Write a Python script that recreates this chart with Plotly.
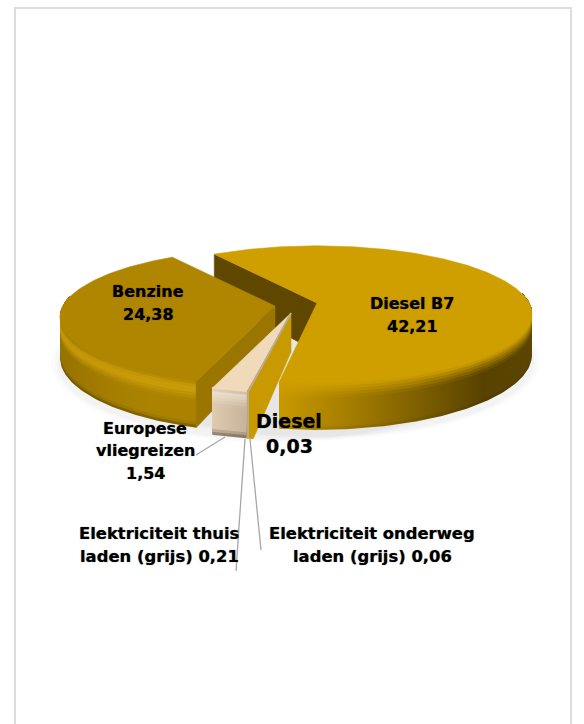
import numpy as np
import plotly.graph_objects as go

# ---- data (clockwise from the back of the pie) ----
names = ["Diesel B7", "Diesel", "Elektriciteit onderweg laden (grijs)",
         "Elektriciteit thuis laden (grijs)", "Europese vliegreizen", "Benzine"]
values = [42.21, 0.03, 0.06, 0.21, 1.54, 24.38]
START_DEG = 326.5

# ---- styles ----
TOP = ["#CF9F00", "#CF9F00", "#BDBDBD", "#A8A8A8", "#F0DAB9", "#B08500"]
APEX = [(317, 303), (291, 313), (291, 313), (291, 313), (291, 313), (275, 306)]
A, B, P, D = 212.0, 66.7, 0.167, 39.0

fig = go.Figure()


def poly(xs, ys, color):
    fig.add_trace(go.Scatter(x=list(xs) + [xs[0]], y=list(ys) + [ys[0]], mode="lines",
                             fill="toself", fillcolor=color,
                             line=dict(color=color, width=0.6),
                             hoverinfo="skip", showlegend=False))


def proj(apex, deg, r=1.0, drop=0.0):
    t = np.radians(deg)
    X, Y = r * np.sin(t), -r * np.cos(t)
    s = 1 / (1 - P * Y)
    return apex[0] + A * X * s, apex[1] + B * Y * s + D * s * drop


def mix(c1, c2, f):
    return tuple(c1[i] + (c2[i] - c1[i]) * f for i in range(3))


def rgb(c):
    return "rgb(%d,%d,%d)" % tuple(int(round(v)) for v in c)


def hex2(c):
    return tuple(int(c[i:i + 2], 16) for i in (1, 3, 5))


def rim(apex, a0, a1, stops, light, light_prof, dark_prof, n=16):
    """Side wall: painted bottom-up in overlapping layers so no seams appear."""
    th = np.linspace(a0, a1, max(6, int(abs(a1 - a0)) + 2))
    xa, xb = stops[0][0], stops[-1][0]
    ts = np.linspace(1, 0, n + 1)[:-1]
    for t in ts:
        wl = float(np.interp(t - .5 / n, [p[0] for p in light_prof], [p[1] for p in light_prof]))
        wd = float(np.interp(t - .5 / n, [p[0] for p in dark_prof], [p[1] for p in dark_prof]))
        up = [proj(apex, a, 1, -0.02) for a in th]
        lo = [proj(apex, a, 1, t) for a in th[::-1]]
        xs = [q[0] for q in up + lo] + [up[0][0]]
        ys = [q[1] for q in up + lo] + [up[0][1]]
        scale = [[(x - xa) / (xb - xa), rgb(mix(mix(c, light, wl), (0, 0, 0), wd))] for x, c in stops]
        fig.add_trace(go.Scatter(x=xs, y=ys, mode="lines", fill="toself",
                                 fillgradient=dict(type="horizontal", colorscale=scale,
                                                   start=xa, stop=xb),
                                 line=dict(width=0), hoverinfo="skip", showlegend=False))


def radial_wall(apex, deg, color, drop=1.0):
    p = [proj(apex, deg, 0), proj(apex, deg, 1), proj(apex, deg, 1, drop), proj(apex, deg, 0, drop)]
    poly([q[0] for q in p], [q[1] for q in p], color)


def top_face(apex, a0, a1, color):
    th = np.linspace(a0, a1, max(3, int(abs(a1 - a0)) + 2))
    pts = [proj(apex, a, 1) for a in th]
    poly([apex[0]] + [q[0] for q in pts], [apex[1]] + [q[1] for q in pts], color)


# slice angles from values
total = sum(values)
sweeps = [v / total * 360 for v in values]
a0s = [START_DEG + sum(sweeps[:i]) for i in range(len(values))]
a1s = [a + s for a, s in zip(a0s, sweeps)]

# soft shadow under the pie
for grow, alpha in [(1.04, .012), (1.025, .016), (1.012, .02)]:
    th = np.linspace(0, 360, 120)
    for ap in (APEX[0], APEX[5]):
        pts = [proj(ap, a, grow, 1.12) for a in th]
        fig.add_trace(go.Scatter(x=[q[0] for q in pts], y=[q[1] for q in pts], mode="lines",
                                 fill="toself", fillcolor="rgba(0,0,0,%g)" % alpha,
                                 line=dict(width=0), hoverinfo="skip", showlegend=False))

# Diesel B7
B7_STOPS = [(278, (200, 154, 0)), (350, (165, 125, 0)), (420, (125, 95, 0)),
            (483, (88, 66, 0)), (533, (92, 69, 0))]
radial_wall(APEX[0], a0s[0], "#5F4700", drop=1.25)
rim(APEX[0], 82, a1s[0] - 360, B7_STOPS, hex2(TOP[0]),
    [(0, 1.0), (.12, .6), (.32, 0), (1, 0)], [(0, 0), (.9, 0), (1, .12)])
top_face(APEX[0], a0s[0], a1s[0], TOP[0])

# Benzine
BZ_STOPS = [(60, (150, 114, 0)), (110, (165, 126, 0)), (150, (172, 131, 0)), (197, (170, 130, 0))]
rim(APEX[5], a0s[5] - 360, 278, BZ_STOPS, (214, 166, 12),
    [(0, .1), (.1, .6), (.2, .75), (.42, 0), (1, 0)], [(0, 0), (.88, 0), (1, .32)])
radial_wall(APEX[5], a0s[5], "#9A7600")
top_face(APEX[5], a0s[5], a1s[5], TOP[5])

# Small exploded slices: the gold wall of "Diesel" and the cream slice
ap = APEX[4]
gw = [proj(ap, a0s[4], 0), proj(ap, a0s[4], 1), proj(ap, a0s[4], 1, 1),
      proj(ap, a0s[1], 1, 1), proj(ap, a0s[1], 0, 1)]
poly([q[0] for q in gw], [q[1] for q in gw], "#C99A00")

EU_STOPS = [(205, (228, 208, 178)), (225, (214, 194, 167)), (245, (200, 180, 155))]
rim(ap, a0s[4], a1s[4], EU_STOPS, (253, 246, 235),
    [(0, 0), (.1, .5), (.2, .3), (.36, 0), (1, 0)], [(0, 0), (.86, 0), (1, .42)])
top_face(ap, a0s[4], a1s[4], TOP[4])

# thin electricity slices, drawn at the boundary of the cream slice
for i, col in ((3, "#B8AC9C"),):
    m = (a0s[i] + a1s[i]) / 2
    pts = [proj(ap, m, 0), proj(ap, a0s[4] - .4, 1), proj(ap, a0s[4] - .4, 1, 1)]
    fig.add_trace(go.Scatter(x=[q[0] for q in pts], y=[q[1] for q in pts], mode="lines",
                             line=dict(color=col, width=1.8), hoverinfo="skip", showlegend=False))

# Leader lines
LEADER_COLOR = "#A6A6A6"
leaders = [([196, 225], [455, 437]), ([245, 236], [439, 571]), ([250, 261], [439, 550])]
for lx, ly in leaders:
    fig.add_trace(go.Scatter(x=lx, y=ly, mode="lines", line=dict(color=LEADER_COLOR, width=1.3),
                             hoverinfo="skip", showlegend=False))


def fmt(v):
    return ("%.2f" % v).replace(".", ",")


FONT = "DejaVu Sans"
labels = [
    ("Benzine", 148, 291, 16), (fmt(values[5]), 148, 314, 16),
    ("Diesel B7", 412, 303, 16), (fmt(values[0]), 412, 326, 16),
    ("Europese", 145, 428, 16), ("vliegreizen", 145, 450, 16), (fmt(values[4]), 145, 473, 16),
    ("Diesel", 289, 421, 19), (fmt(values[1]), 289, 446, 19),
    ("Elektriciteit thuis", 159, 533, 16.4), ("laden (grijs) " + fmt(values[3]), 159, 556, 16.4),
    ("Elektriciteit onderweg", 372, 533, 16.4), ("laden (grijs) " + fmt(values[2]), 372, 556, 16.4),
]
for txt, x, y, size in labels:
    fig.add_annotation(x=x, y=y, text="<b>%s</b>" % txt, showarrow=False, xanchor="center",
                       yanchor="middle",
                       font=dict(family=FONT, size=size, color="#000000",
                                 shadow="0 0 1px rgba(0,0,0,0.6)"))

fig.update_layout(
    width=584, height=724, margin=dict(l=0, r=0, t=0, b=0),
    paper_bgcolor="#FFFFFF", plot_bgcolor="#FFFFFF", showlegend=False,
    xaxis=dict(range=[0, 584], visible=False, fixedrange=True),
    yaxis=dict(range=[724, 0], visible=False, fixedrange=True),
    shapes=[dict(type="rect", xref="x", yref="y", x0=15, y0=8, x1=571, y1=900,
                 line=dict(color="#DDDDDD", width=2), fillcolor="rgba(0,0,0,0)", layer="below")],
)
fig.write_html("out.html", config={"displayModeBar": False},
               post_script="document.body.style.margin='0';document.body.style.overflow='hidden';")
